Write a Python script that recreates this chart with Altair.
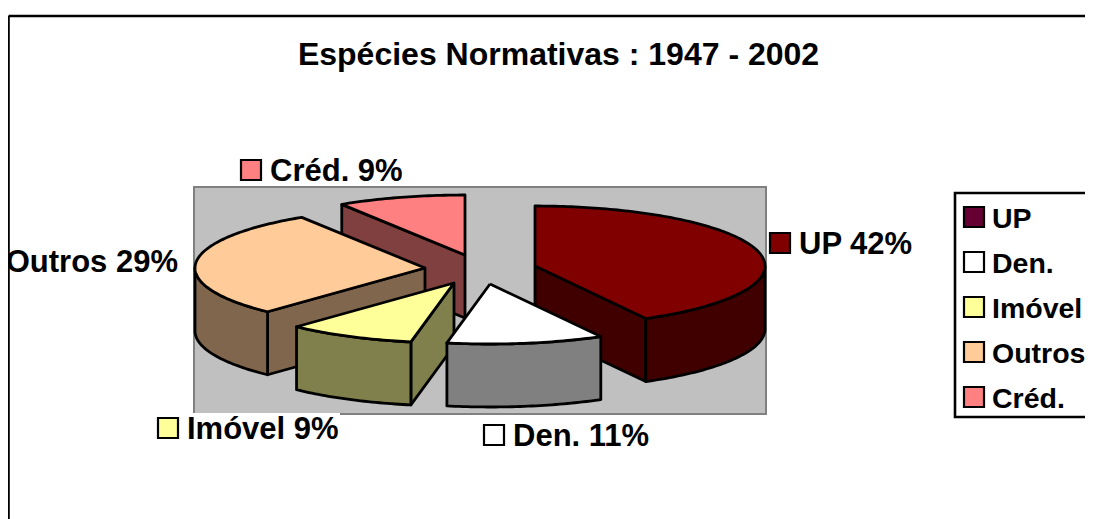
import numpy as np
import pandas as pd
import altair as alt

# ---- values
categories = ["UP", "Den.", "Imóvel", "Outros", "Créd."]
shares = [42, 11, 9, 29, 9]
top_colors = ["#800000", "#ffffff", "#ffff99", "#ffcc99", "#ff8080"]
side_colors = ["#400000", "#808080", "#80804c", "#80664c", "#804040"]
legend_colors = ["#660033", "#ffffff", "#ffff99", "#ffcc99", "#ff8080"]
title_text = "Espécies Normativas : 1947 - 2002"

# ---- layout of the exploded pie (image pixels)
centers = {"UP": (535, 266), "Den.": (490, 284), "Imóvel": (454, 283),
           "Outros": (425, 268), "Créd.": (465, 255)}
RX, RY, DEPTH = 230, 60, 63
label_pos = {"UP": (770, 243, "sw"), "Den.": (484, 435, "sw"), "Imóvel": (158, 428, "sw"),
             "Outros": (178, 261, "right"), "Créd.": (241, 170, "sw")}
FONT = "Liberation Sans"
TEXT_DY = 1.5

X = alt.Scale(domain=[8, 1085], range=[0, 1077], nice=False, zero=False)
Y = alt.Scale(domain=[8, 519], range=[0, 511], nice=False, zero=False)


def rim(c, a):
    a = np.radians(a)
    return c[0] + RX * np.sin(a), c[1] - RY * np.cos(a)


def arc(c, a0, a1):
    n = max(2, int(abs(a1 - a0)) + 1)
    return [rim(c, a) for a in np.linspace(a0, a1, n)]


edges = np.cumsum([0] + shares) * 3.6
slices = {k: (edges[i], edges[i + 1], top_colors[i], side_colors[i]) for i, k in enumerate(categories)}

rows = []
pid = 0


def add(points, color):
    global pid
    for i, (px, py) in enumerate(points + [points[0]]):
        rows.append({"poly": f"p{pid:03d}", "i": i, "x": float(px), "y": float(py), "c": color})
    pid += 1


for k in ["Créd.", "Outros", "UP", "Imóvel", "Den."]:
    a0, a1, top, side = slices[k]
    c = centers[k]
    down = lambda pts: [(p[0], p[1] + DEPTH) for p in pts]
    # cut face at the start edge, when it looks towards the viewer
    n0 = (a0 - 90) % 360
    if 90 < n0 < 270:
        e = [rim(c, a0), c]
        add(e + down(e)[::-1], side)
    # cut face at the end edge
    n1 = (a1 + 90) % 360
    if 90 < n1 < 270:
        e = [c, rim(c, a1)]
        add(e + down(e)[::-1], side)
    # outer wall: the part of the rim on the near side
    lo, hi = max(a0, 90), min(a1, 270)
    if hi > lo:
        e = arc(c, lo, hi)
        add(e + down(e)[::-1], side)
    # top face
    add([c] + arc(c, a0, a1), top)

poly_df = pd.DataFrame(rows)

pie = alt.Chart(poly_df).mark_line(stroke="black", strokeWidth=2.8, strokeJoin="round").encode(
    x=alt.X("x:Q", scale=X, axis=None),
    y=alt.Y("y:Q", scale=Y, axis=None),
    detail="poly:N",
    order="i:Q",
    fill=alt.Fill("c:N", scale=None),
)


def rect(df, **kw):
    return alt.Chart(df).mark_rect(**kw).encode(
        x=alt.X("x:Q", scale=X, axis=None), x2="x2:Q",
        y=alt.Y("y:Q", scale=Y, axis=None), y2="y2:Q",
        fill=alt.Fill("c:N", scale=None),
    )


plate = rect(pd.DataFrame([dict(x=194, x2=766, y=187, y2=414, c="#c0c0c0")]), stroke="#808080", strokeWidth=2)
label_bg = rect(pd.DataFrame([dict(x=150, x2=340, y=413, y2=440, c="#ffffff")]))
frame_rows = pd.DataFrame([dict(x=8.5, x2=1085, y=16, y2=16), dict(x=8.5, x2=8.5, y=16, y2=519)])
frame = alt.Chart(frame_rows).mark_rule(stroke="black", strokeWidth=2.6).encode(
    x=alt.X("x:Q", scale=X, axis=None), x2="x2:Q",
    y=alt.Y("y:Q", scale=Y, axis=None), y2="y2:Q",
)


def texts(rows_, align, size):
    df = pd.DataFrame(rows_)
    df["y"] = df["y"] + TEXT_DY
    return alt.Chart(df).mark_text(
        font=FONT, fontWeight="bold", fontSize=size, color="black", baseline="middle", align=align
    ).encode(x=alt.X("x:Q", scale=X, axis=None), y=alt.Y("y:Q", scale=Y, axis=None), text="t:N")


title = texts([dict(x=558.5, y=53, t=title_text)], "center", 32)

sw_rows, txt_rows, txt_right, leg_rows = [], [], [], []
for i, k in enumerate(categories):
    px, py, kind = label_pos[k]
    t = f"{k} {shares[i]}%"
    if kind == "right":
        txt_right.append(dict(x=px, y=py, t=t))
    else:
        sw_rows.append(dict(x=px, x2=px + 20, y=py - 10, y2=py + 10, c=top_colors[i]))
        txt_rows.append(dict(x=px + 29, y=py, t=t))

LEG_Y = [217, 262, 307, 352, 397]
leg_box = rect(pd.DataFrame([dict(x=955, x2=1100, y=193, y2=417, c="#ffffff")]), stroke="black", strokeWidth=2.6)
for i, k in enumerate(categories):
    sw_rows.append(dict(x=964, x2=984, y=LEG_Y[i] - 10, y2=LEG_Y[i] + 10, c=legend_colors[i]))
    leg_rows.append(dict(x=992, y=LEG_Y[i], t=k))

swatches = rect(pd.DataFrame(sw_rows), stroke="black", strokeWidth=2.2)

chart = alt.layer(
    plate, label_bg, pie, leg_box, swatches,
    title, texts(txt_rows, "left", 31), texts(txt_right, "right", 31), texts(leg_rows, "left", 28.5), frame,
).properties(width=1077, height=511, padding=0, autosize=alt.AutoSizeParams(type="none"), background="white"
).configure_view(stroke=None)

chart.save("out.html", embed_options={"renderer": "svg", "actions": False})
